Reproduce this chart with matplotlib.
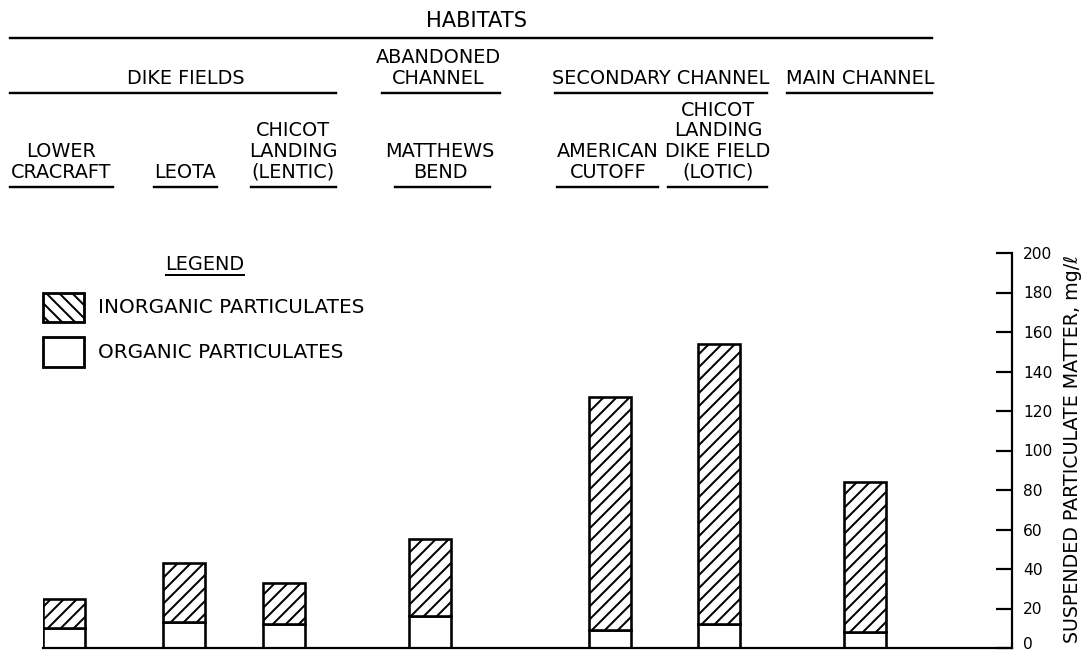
import matplotlib
matplotlib.use("Agg")
import matplotlib.pyplot as plt
import matplotlib.transforms as mtransforms
from matplotlib.lines import Line2D
from matplotlib.patches import Rectangle

# values, mg/l
sites = ["Lower Cracraft", "Leota", "Chicot Landing (lentic)", "Matthews Bend",
         "American Cutoff", "Chicot Landing (lotic)", "Main Channel"]
organic = [10, 13, 12, 16, 9, 12, 8]
inorganic = [15, 30, 21, 39, 118, 142, 76]
y_ticks = [0, 20, 40, 60, 80, 100, 120, 140, 160, 180, 200]

# layout (pixel units of the 1085x652 image)
W, H = 1085, 652
DPI = 78
bar_x = [64, 184, 284, 430, 610, 719, 865]
bar_w = 42
AX_L, AX_R, AX_B, AX_T = 43, 1012, 648, 253


def pt(px):
    return px * 72 / DPI


def fx(x):
    return x / W


def fy(y):
    return 1 - y / H


fig = plt.figure(figsize=(W / DPI, H / DPI), dpi=DPI)
plt.rcParams["hatch.linewidth"] = pt(2)
ax = fig.add_axes([fx(AX_L), fy(AX_B), fx(AX_R - AX_L), (AX_B - AX_T) / H])

ax.bar(bar_x, organic, width=bar_w, color="white", edgecolor="black",
       linewidth=pt(2.6))
ax.bar(bar_x, inorganic, bottom=organic, width=bar_w, color="white",
       edgecolor="black", hatch="//", linewidth=pt(2.6))

ax.set_xlim(AX_L, AX_R)
ax.set_ylim(0, 200)
ax.set_xticks([])
ax.set_yticks(y_ticks)
ax.yaxis.tick_right()
ax.tick_params(axis="y", direction="in", length=pt(16), width=pt(2.2),
               labelsize=pt(15.5), pad=pt(11))
for s in ["left", "top"]:
    ax.spines[s].set_visible(False)
ax.spines["right"].set_linewidth(pt(2.2))
ax.spines["bottom"].set_linewidth(pt(2.2))

# nudge the "0" label up so it stays inside the image
fig.canvas.draw()
lab0 = ax.get_yticklabels()[0]
lab0.set_transform(lab0.get_transform() +
                   mtransforms.ScaledTranslation(0, 5 / DPI, fig.dpi_scale_trans))

fig.text(fx(1073), fy(449), "SUSPENDED PARTICULATE MATTER, mg/\u2113",
         rotation=90, ha="center", va="center", fontsize=pt(19))

HEAD = pt(19.2)


def label(cx, cy_last, lines, pitch=20.5):
    n = len(lines)
    for i, t in enumerate(lines):
        cy = cy_last - (n - 1 - i) * pitch
        fig.text(fx(cx), fy(cy), t, ha="center", va="center", fontsize=HEAD)


def rule(x0, x1, y, lw=2.4):
    fig.add_artist(Line2D([fx(x0), fx(x1)], [fy(y), fy(y)], color="black",
                          linewidth=pt(lw), transform=fig.transFigure))


# header hierarchy
fig.text(fx(476), fy(21), "HABITATS", ha="center", va="center", fontsize=pt(21))
rule(10, 932, 38)

label(186, 79, ["DIKE FIELDS"])
label(438, 79, ["ABANDONED", "CHANNEL"], pitch=21.5)
label(661, 79, ["SECONDARY CHANNEL"])
label(860, 79, ["MAIN CHANNEL"])
for x0, x1 in [(10, 336), (382, 500), (555, 767), (787, 932)]:
    rule(x0, x1, 93)

label(61, 172, ["LOWER", "CRACRAFT"])
label(185, 172, ["LEOTA"])
label(293, 172, ["CHICOT", "LANDING", "(LENTIC)"])
label(440, 172, ["MATTHEWS", "BEND"])
label(608, 172, ["AMERICAN", "CUTOFF"])
label(718, 172, ["CHICOT", "LANDING", "DIKE FIELD", "(LOTIC)"])
for x0, x1 in [(10, 113), (154, 217), (251, 336), (395, 490), (557, 658), (668, 767)]:
    rule(x0, x1, 187)

# hand-drawn legend
fig.text(fx(205), fy(265), "LEGEND", ha="center", va="center", fontsize=HEAD)
rule(166, 244, 275, lw=2)
fig.add_artist(Rectangle((fx(43), fy(322)), fx(41), (322 - 293) / H,
                         transform=fig.transFigure, facecolor="white",
                         edgecolor="black", hatch="\\\\", linewidth=pt(2.8)))
fig.add_artist(Rectangle((fx(43), fy(367)), fx(41), (367 - 337) / H,
                         transform=fig.transFigure, facecolor="white",
                         edgecolor="black", linewidth=pt(2.8)))
fig.text(fx(98), fy(308), "INORGANIC PARTICULATES", ha="left", va="center",
         fontsize=pt(20))
fig.text(fx(98), fy(352), "ORGANIC PARTICULATES", ha="left", va="center",
         fontsize=pt(20))

fig.savefig("out.png", dpi=DPI)
